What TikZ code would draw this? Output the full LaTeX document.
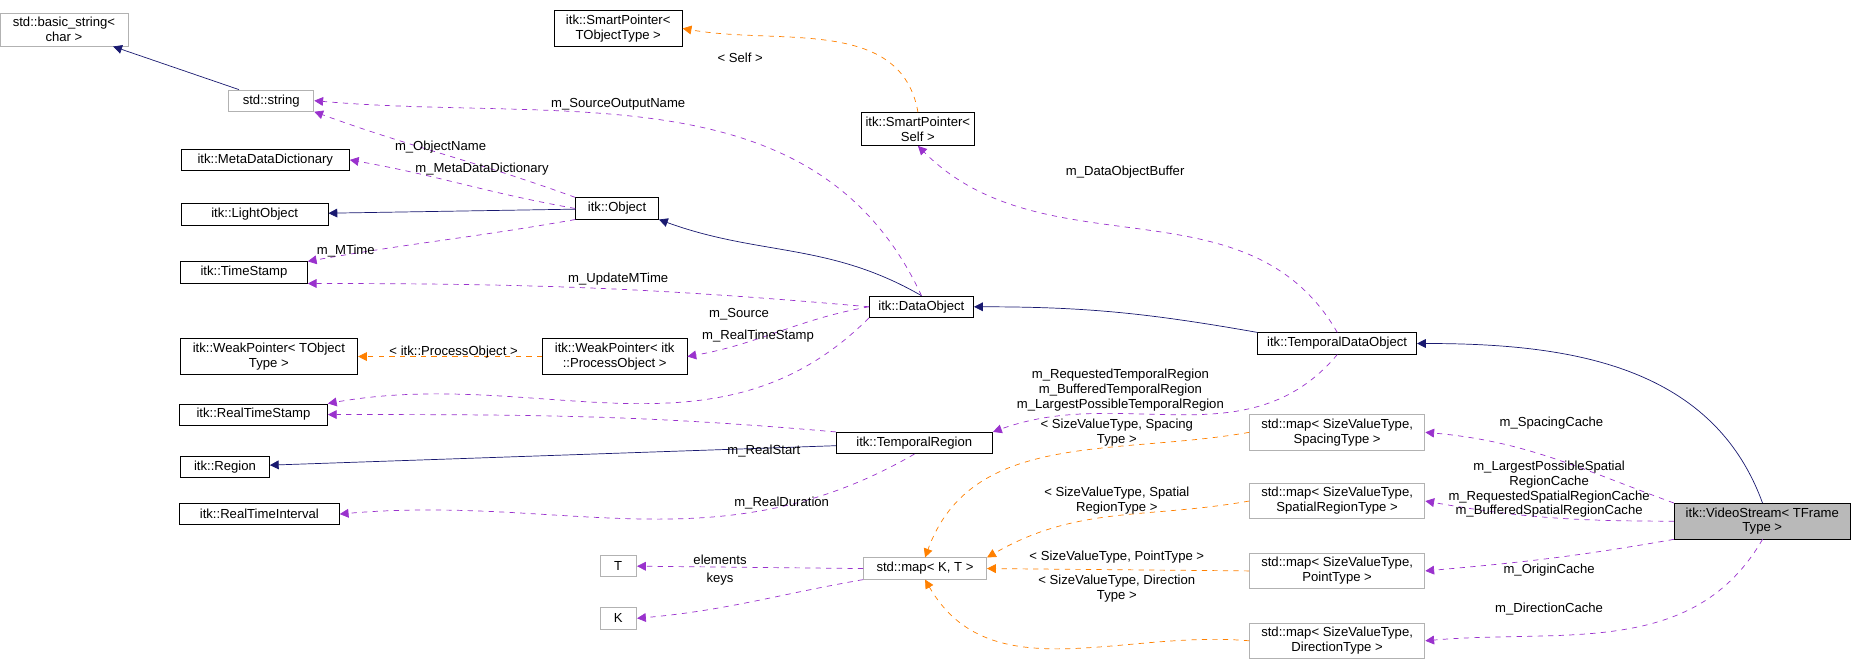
\documentclass[tikz,border=0pt]{standalone}
\usepackage{fontspec}
\setmainfont{Liberation Sans}
\usetikzlibrary{arrows.meta}
\tikzset{
  cls/.style={draw=black,fill=white,align=center,inner sep=2pt,minimum height=0.36cm,font=\fontsize{6.3}{7.2}\selectfont},
  ext/.style={cls,draw=gray!60},
  cur/.style={cls,fill=gray!55},
  lbl/.style={align=center,inner sep=0pt,font=\fontsize{6.3}{7.2}\selectfont},
  inh/.style={draw={rgb,255:red,25;green,25;blue,112},-{Triangle[length=5pt,width=5pt]}},
  use/.style={draw={rgb,255:red,154;green,50;blue,205},dashed,-{Triangle[length=5pt,width=5pt]}},
  tpl/.style={draw=orange,dashed,-{Triangle[length=5pt,width=5pt]}},
}
\begin{document}
\begin{tikzpicture}[x=0.02cm,y=-0.02cm,scale=1.1843,every node/.append style={transform shape}]
\useasboundingbox (0,0) rectangle (1568,557);

% classes
\node[cls,minimum width=2.16cm] (spT) at (522,24) {itk::SmartPointer\textless\\TObjectType \textgreater};
\node[ext,minimum width=2.16cm] (bstr) at (54,25) {std::basic\_string\textless\\char \textgreater};
\node[ext,minimum width=1.44cm] (str) at (229,85) {std::string};
\node[cls,minimum width=1.88cm] (spS) at (775,109) {itk::SmartPointer\textless\\Self \textgreater};
\node[cls,minimum width=2.84cm] (mdd) at (224,135) {itk::MetaDataDictionary};
\node[cls,minimum width=2.48cm] (lobj) at (215,181) {itk::LightObject};
\node[cls,minimum width=1.4cm] (obj) at (521,176) {itk::Object};
\node[cls,minimum width=2.14cm] (ts) at (206,230) {itk::TimeStamp};
\node[cls,minimum width=1.76cm] (dobj) at (778,259) {itk::DataObject};
\node[cls,minimum width=3cm] (wpT) at (227,301) {itk::WeakPointer\textless{} TObject\\Type \textgreater};
\node[cls,minimum width=2.44cm] (wpP) at (519,301) {itk::WeakPointer\textless{} itk\\::ProcessObject \textgreater};
\node[cls,minimum width=2.68cm] (tdo) at (1129,290) {itk::TemporalDataObject};
\node[cls,minimum width=2.5cm] (rts) at (214,350) {itk::RealTimeStamp};
\node[cls,minimum width=2.64cm] (treg) at (772,374) {itk::TemporalRegion};
\node[ext,minimum width=2.96cm] (mSp) at (1129,365) {std::map\textless{} SizeValueType,\\SpacingType \textgreater};
\node[cls,minimum width=1.5cm] (reg) at (190,394) {itk::Region};
\node[cls,minimum width=2.7cm] (rti) at (219,434) {itk::RealTimeInterval};
\node[ext,minimum width=2.96cm] (mSr) at (1129,423) {std::map\textless{} SizeValueType,\\SpatialRegionType \textgreater};
\node[cur,minimum width=2.98cm] (vs) at (1488,440) {itk::VideoStream\textless{} TFrame\\Type \textgreater};
\node[ext,minimum width=0.62cm] (T) at (522,478) {T};
\node[ext,minimum width=2.08cm] (mKT) at (781,480) {std::map\textless{} K, T \textgreater};
\node[ext,minimum width=2.96cm] (mPt) at (1129,482) {std::map\textless{} SizeValueType,\\PointType \textgreater};
\node[ext,minimum width=0.62cm] (K) at (522,522) {K};
\node[ext,minimum width=2.96cm] (mDi) at (1129,541) {std::map\textless{} SizeValueType,\\DirectionType \textgreater};

% inheritance
\draw[inh] (str) -- (bstr);
\draw[inh] (obj) -- (lobj);
\draw[inh] (dobj.north) to[out=150,in=-20] (obj.south east);
\draw[inh] (tdo.north west) to[out=170,in=0] (dobj);
\draw[inh] (vs.north) to[out=110,in=0] (tdo.east);
\draw[inh] (treg) -- (reg);

% usage
\draw[use] (obj.north west) to[out=160,in=-20] (str.south east);
\draw[use] (obj.west) to[out=170,in=-10] (mdd.east);
\draw[use] (obj.south west) to[out=-170,in=10] (ts.north east);
\draw[use] (dobj.north) to[out=115,in=-5] (str.east);
\draw[use] (dobj.west) to[out=175,in=0] (ts.south east);
\draw[use] (dobj.west) to[out=-170,in=10] (wpP.east);
\draw[use] (dobj.south west) to[out=-135,in=10] (rts.north east);
\draw[use] (tdo.north) to[out=120,in=-45] (spS.south);
\draw[use] (tdo.south) to[out=-130,in=20] (treg.north east);
\draw[use] (treg.north west) to[out=175,in=0] (rts.east);
\draw[use] (treg.south) to[out=-150,in=5] (rti.east);
\draw[use] (mKT.west) -- (T.east);
\draw[use] (mKT.south west) to[out=-170,in=5] (K.east);
\draw[use] (vs.north west) to[out=160,in=-5] (mSp.east);
\draw[use] (vs.west) to[out=180,in=-10] (mSr.east);
\draw[use] (vs.south west) to[out=-170,in=5] (mPt.east);
\draw[use] (vs.south) to[out=-120,in=5] (mDi.east);

% templates
\draw[tpl] (spS.north) to[out=100,in=-10] (spT.east);
\draw[tpl] (wpP.west) -- (wpT.east);
\draw[tpl] (mSp.west) to[out=190,in=70] (mKT.north);
\draw[tpl] (mSr.west) to[out=190,in=30] (mKT.north east);
\draw[tpl] (mPt.west) -- (mKT.east);
\draw[tpl] (mDi.west) to[out=175,in=-60] (mKT.south);

% labels
\node[lbl] (lON) at (372,124) {m\_ObjectName};
\node[lbl] (lMD) at (407,143) {m\_MetaDataDictionary};
\node[lbl] (lMT) at (292,212) {m\_MTime};
\node[lbl] (lSO) at (522,88) {m\_SourceOutputName};
\node[lbl] (lUM) at (522,236) {m\_UpdateMTime};
\node[lbl] (lSr) at (624,265) {m\_Source};
\node[lbl] (lRT) at (640,284) {m\_RealTimeStamp};
\node[lbl] (lDB) at (950,145) {m\_DataObjectBuffer};
\node[lbl] (lSe) at (625,49) {\textless{} Self \textgreater};
\node[lbl] (lPO) at (383,297) {\textless{} itk::ProcessObject \textgreater};
\node[lbl] (lTR) at (946,329) {m\_RequestedTemporalRegion\\m\_BufferedTemporalRegion\\m\_LargestPossibleTemporalRegion};
\node[lbl] (lRS) at (645,381) {m\_RealStart};
\node[lbl] (lRD) at (660,425) {m\_RealDuration};
\node[lbl] (lSp) at (943,365) {\textless{} SizeValueType, Spacing\\Type \textgreater};
\node[lbl] (lSR) at (943,423) {\textless{} SizeValueType, Spatial\\RegionType \textgreater};
\node[lbl] (lPt) at (943,470) {\textless{} SizeValueType, PointType \textgreater};
\node[lbl] (lDi) at (943,497) {\textless{} SizeValueType, Direction\\Type \textgreater};
\node[lbl] (lEl) at (608,473) {elements};
\node[lbl] (lKe) at (608,489) {keys};
\node[lbl] (lSC) at (1310,357) {m\_SpacingCache};
\node[lbl] (lSRC) at (1308,413) {m\_LargestPossibleSpatial\\RegionCache\\m\_RequestedSpatialRegionCache\\m\_BufferedSpatialRegionCache};
\node[lbl] (lOC) at (1308,481) {m\_OriginCache};
\node[lbl] (lDC) at (1308,514) {m\_DirectionCache};
\end{tikzpicture}
\end{document}
